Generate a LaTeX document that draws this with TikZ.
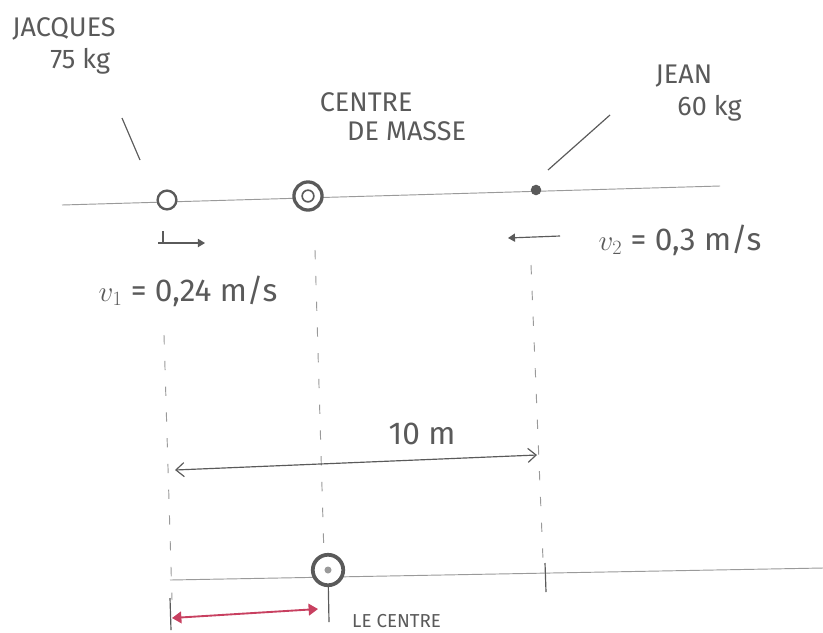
\documentclass[tikz,border=0pt]{standalone}
\usepackage{fontspec}
\setmainfont{Fira Sans}
\usetikzlibrary{arrows.meta}
\definecolor{pencil}{HTML}{5A5A5A}
\definecolor{lightpencil}{HTML}{9A9A9A}
\definecolor{redpen}{HTML}{C84060}
\begin{document}
\begin{tikzpicture}[x=0.03cm,y=-0.03cm,
  lbl/.style={text=pencil,font=\fontsize{23}{25}\selectfont,align=center,inner sep=0pt},
  biglbl/.style={lbl,font=\fontsize{27}{29}\selectfont},
  axis/.style={draw=lightpencil,line width=0.8pt},
  guide/.style={draw=lightpencil,line width=0.8pt,dash pattern=on 8pt off 14pt},
  pointer/.style={draw=pencil,line width=1pt},
  ring/.style={circle,draw=pencil,line width=2pt,fill=white,inner sep=0pt},
  dimarrow/.style={draw=pencil,line width=1pt,{Straight Barb[length=7pt,width=12pt]}-{Straight Barb[length=7pt,width=12pt]}},
  redarrow/.style={draw=redpen,line width=1.6pt,{Triangle[length=8pt,width=10pt]}-{Triangle[length=8pt,width=10pt]}}]
\useasboundingbox[fill=white] (0,0) rectangle (823,632);

% labels
\node[lbl] (jacques) at (64,46) {JACQUES\\[2pt]\hspace*{1.2em}75 kg};
\node[lbl] (cmlabel) at (385,117) {CENTRE\hspace*{1.4em}\\\hspace*{1.6em}DE MASSE};
\node[lbl] (jean) at (692,93) {JEAN\hspace*{0.6em}\\[2pt]\hspace*{1.3em}60 kg};

% top axis
\coordinate (axL) at (62,205);
\coordinate (axR) at (720,186);
\draw[axis] (axL) -- (axR);

% points on the top axis
\node[ring,minimum size=16pt] (p1) at (167,200) {};
\node[ring,minimum size=24pt,line width=2.8pt] (cm) at (308,196) {};
\node[circle,fill=pencil,minimum size=9pt,inner sep=0pt] (p2) at (536,190) {};
\node[circle,draw=pencil,line width=1.4pt,minimum size=10pt,inner sep=0pt] (cmin) at (308,196) {};

% pointers
\coordinate (ja) at (122,118);
\coordinate (jb) at (140,160);
\draw[pointer] (ja) -- (jb);
\coordinate (ea) at (548,170);
\coordinate (eb) at (610,115);
\draw[pointer] (ea) -- (eb);

% velocities
\coordinate (v1a) at (158,243);
\coordinate (v1b) at (205,243);
\draw[pointer,-{Triangle[length=6pt,width=7pt]}] (v1a) -- (v1b);
\coordinate (v1t) at (163,231);
\draw[pointer] (v1t) -- (v1a -| v1t);
\node[biglbl] (v1) at (188,291) {$v_1$ = 0,24 m/s};

\coordinate (v2a) at (560,236);
\coordinate (v2b) at (508,238);
\draw[pointer,-{Triangle[length=6pt,width=7pt]}] (v2a) -- (v2b);
\node[biglbl] (v2) at (680,240) {$v_2$ = 0,3 m/s};

% dashed guides
\coordinate (g1a) at (164,335);
\coordinate (g1b) at (172,600);
\draw[guide] (g1a) -- (g1b);
\coordinate (g2a) at (315,250);
\coordinate (g2b) at (324,556);
\draw[guide] (g2a) -- (g2b);
\coordinate (g3a) at (531,265);
\coordinate (g3b) at (543,560);
\draw[guide] (g3a) -- (g3b);

% 10 m dimension
\coordinate (d1) at (175,470);
\coordinate (d2) at (537,455);
\draw[dimarrow] (d1) -- (d2);
\node[biglbl] (ten) at (422,434) {10 m};

% bottom axis
\coordinate (bL) at (170,580);
\coordinate (bR) at (823,568);
\draw[axis] (bL) -- (bR);
\node[ring,minimum size=26pt,line width=3.2pt] (cm2) at (328,570) {};
\node[circle,fill=lightpencil,minimum size=6pt,inner sep=0pt] (cm2in) at (328,570) {};

% solid ticks at the bottom
\coordinate (t3a) at (545,563);
\coordinate (t3b) at (546,592);
\draw[pointer] (t3a) -- (t3b);
\coordinate (t2b) at (329,622);
\draw[pointer] (cm2) -- (t2b);
\coordinate (t1a) at (170,598);
\coordinate (t1b) at (171,630);
\draw[pointer] (t1a) -- (t1b);

% red displacement
\coordinate (r1) at (172,618);
\coordinate (r2) at (318,609);
\draw[redarrow] (r1) -- (r2);

% text at the bottom edge
\node[lbl,font=\fontsize{16}{18}\selectfont,anchor=north west] (bottomtext) at (352,614) {LE CENTRE};
\end{tikzpicture}
\end{document}
